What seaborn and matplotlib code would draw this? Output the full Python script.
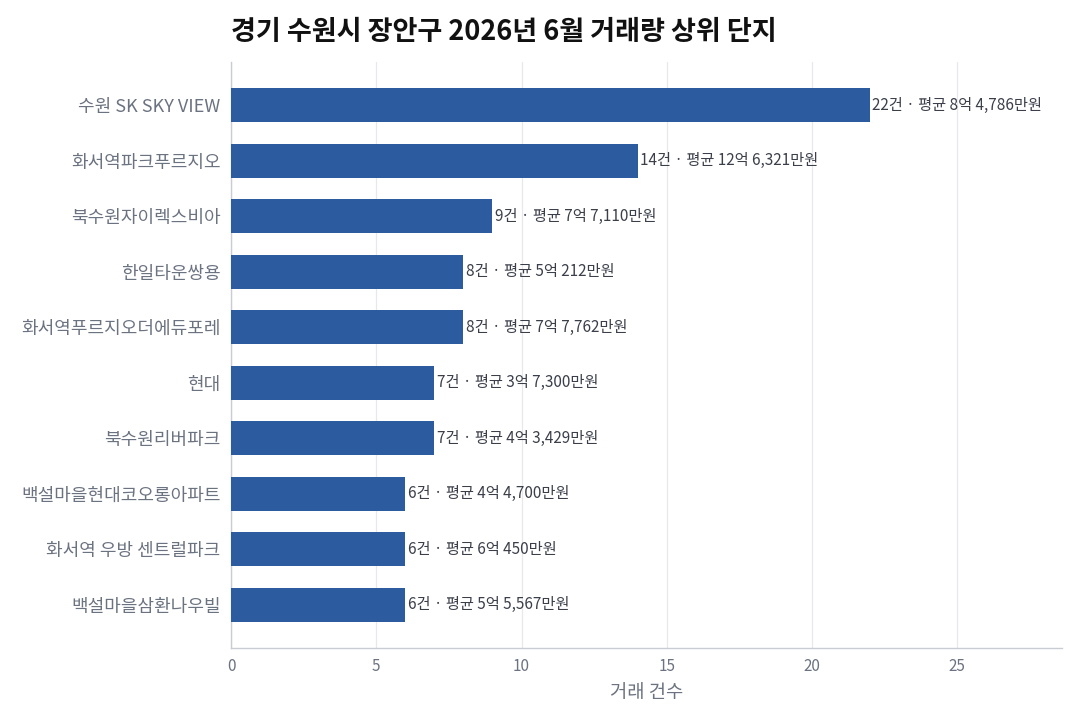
import matplotlib
matplotlib.use("Agg")
import matplotlib.pyplot as plt
import seaborn as sns
import pandas as pd

# ── Data ──────────────────────────────────────────────────────────────────────
complexes = ["수원 SK SKY VIEW", "화서역파크푸르지오", "북수원자이렉스비아", "한일타운쌍용",
             "화서역푸르지오더에듀포레", "현대", "북수원리버파크", "백설마을현대코오롱아파트",
             "화서역 우방 센트럴파크", "백설마을삼환나우빌"]
counts = [22, 14, 9, 8, 8, 7, 7, 6, 6, 6]
avg_prices = ["8억 4,786만원", "12억 6,321만원", "7억 7,110만원", "5억 212만원",
              "7억 7,762만원", "3억 7,300만원", "4억 3,429만원", "4억 4,700만원",
              "6억 450만원", "5억 5,567만원"]

BAR_COLOR = "#2c5ba0"
GRID = "#e8e8ec"
SPINE = "#c9ccd3"
TICK = "#6b7280"

sns.set_theme(style="white")
plt.rcParams["font.family"] = ["Noto Sans CJK KR", "DejaVu Sans"]

df = pd.DataFrame({"name": complexes, "count": counts, "price": avg_prices})

fig, ax = plt.subplots(figsize=(10.8, 7.2), dpi=100)
sns.barplot(data=df, y="name", x="count", orient="h", color=BAR_COLOR,
            width=0.62, saturation=1, linewidth=0, ax=ax, zorder=3)

for i, (c, p) in enumerate(zip(df["count"], df["price"])):
    ax.text(c + 0.08, i, f"{c}건 · 평균 {p}", va="center", ha="left",
            fontsize=11, color="#3b3f4a")

ax.set_xlim(0, max(counts) * 1.3)
ax.set_ylim(9.78, -0.78)
ax.set_xticks([0, 5, 10, 15, 20, 25])
ax.xaxis.grid(True, color=GRID, linewidth=0.9, zorder=0)
ax.yaxis.grid(False)
for s in ["top", "right"]:
    ax.spines[s].set_visible(False)
for s in ["left", "bottom"]:
    ax.spines[s].set_color(SPINE)
    ax.spines[s].set_linewidth(1)
ax.tick_params(axis="both", colors=SPINE, labelcolor=TICK, length=4, width=0.8)
ax.tick_params(axis="y", labelsize=13)
ax.tick_params(axis="x", labelsize=11)
ax.set_ylabel("")
ax.set_xlabel("거래 건수", fontsize=13.5, color=TICK, labelpad=5)
ax.set_title("경기 수원시 장안구 2026년 6월 거래량 상위 단지", loc="left",
             fontsize=19.5, fontweight="bold", color="#111111", pad=16)

fig.subplots_adjust(left=0.214, right=0.983, top=0.914, bottom=0.1)
fig.savefig("out.png", dpi=100)
plt.close()
